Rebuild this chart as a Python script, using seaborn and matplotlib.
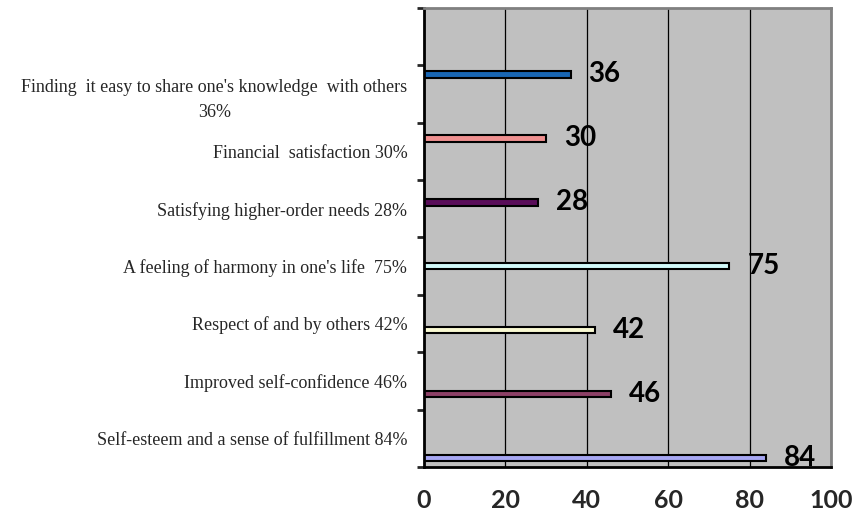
import matplotlib
matplotlib.use("Agg")
import matplotlib.pyplot as plt
import seaborn as sns
import pandas as pd
import numpy as np

# Survey answers, top to bottom as shown in the chart
labels = [
    "Finding  it easy to share one's knowledge  with others\n36%",
    "Financial  satisfaction 30%",
    "Satisfying higher-order needs 28%",
    "A feeling of harmony in one's life  75%",
    "Respect of and by others 42%",
    "Improved self-confidence 46%",
    "Self-esteem and a sense of fulfillment 84%",
]
values = [36, 30, 28, 75, 42, 46, 84]
colors = ["#0066CC", "#FF8080", "#660066", "#CCFFFF", "#FFFFCC", "#993366", "#9999FF"]
xticks = [0, 20, 40, 60, 80, 100]

df = pd.DataFrame({"answer": labels, "value": values})

sns.set_style("white")
fig = plt.figure(figsize=(8.57, 5.27), dpi=100)
ax = fig.add_axes([0.4947, 0.114, 0.4750, 0.8708])
ax.set_facecolor("#C0C0C0")

sns.barplot(data=df, x="value", y="answer", hue="answer", order=labels, hue_order=labels,
            palette=colors, dodge=True, width=0.8, edgecolor="black", linewidth=1.5,
            legend=False, ax=ax)

for cont in ax.containers:
    ax.bar_label(cont, padding=13, fontsize=20, fontweight="bold", family="Lato", color="black")

ax.set_xlim(0, 100)
ax.set_ylim(len(labels) - 0.5, -1.5)
ax.set_xticks(xticks)
ax.set_xticklabels([str(t) for t in xticks], fontsize=18, fontweight="bold", family="Lato")
ax.tick_params(axis="x", direction="out", length=7, width=2, pad=9)

# category names at slot centres, tick marks at slot boundaries
ax.set_yticks(np.arange(len(labels)))
ax.set_yticklabels(labels, family="Liberation Serif", fontsize=13, ha="right",
                   multialignment="center", linespacing=1.6)
ax.tick_params(axis="y", which="major", length=0, pad=12)
ax.set_yticks(np.arange(-1.5, len(labels)), minor=True)
ax.tick_params(axis="y", which="minor", direction="out", length=5, width=2, left=True)

ax.xaxis.grid(True, color="black", linewidth=0.9)
ax.yaxis.grid(False)
ax.set_axisbelow(True)
ax.set_xlabel("")
ax.set_ylabel("")

for side in ["left", "bottom"]:
    ax.spines[side].set_color("black")
    ax.spines[side].set_linewidth(2)
for side in ["top", "right"]:
    ax.spines[side].set_color("#808080")
    ax.spines[side].set_linewidth(2)

fig.savefig("out.png", dpi=100)
